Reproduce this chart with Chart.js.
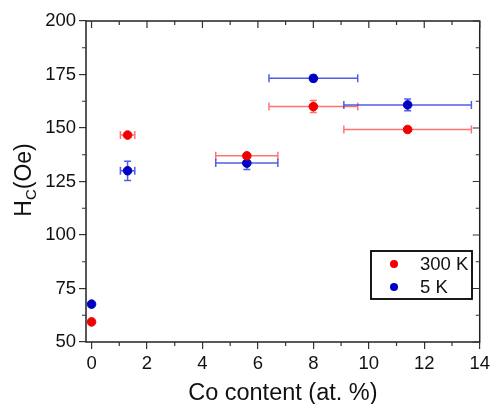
<!DOCTYPE html>
<html lang="en">
<head>
  <meta charset="UTF-8" />
  <title>Hc vs Co content</title>
  <script src="https://cdn.jsdelivr.net/npm/chart.js"></script>
  <style>
    html, body { margin: 0; padding: 0; background: #fff; }
    #wrap { width: 494px; height: 404px; }
  </style>
</head>
<body>
  <div id="wrap"><canvas id="grafico" width="494" height="404"></canvas></div>

  <script>
    // data
    const seriesNames = ['300 K', '5 K'];
    const co300 = [0, 1.3, 5.6, 8, 11.4];
    const hc300 = [59.4, 146.7, 137, 160, 149.3];
    const xErr300 = [0, 0.26, 1.12, 1.6, 2.3];
    const yErr300 = [0, 1, 1, 2.8, 1.3];
    const co5 = [0, 1.3, 5.6, 8, 11.4];
    const hc5 = [67.7, 130, 133.6, 173.2, 160.8];
    const xErr5 = [0, 0.26, 1.12, 1.6, 2.3];
    const yErr5 = [0, 4.5, 3, 1.5, 2.7];
    const xTicks = [0, 2, 4, 6, 8, 10, 12, 14];
    const yTicks = [50, 75, 100, 125, 150, 175, 200];

    const fontFam = '"Liberation Sans", Arial, sans-serif';

    function pts(xs, ys, xe, ye) {
      return xs.map((x, i) => ({ x: x, y: ys[i], xe: xe[i], ye: ye[i] }));
    }

    // error bars, drawn under the markers
    const errorBars = {
      id: 'errorBars',
      beforeDatasetsDraw(chart) {
        const c = chart.ctx, xs = chart.scales.x, ys = chart.scales.y;
        chart.data.datasets.forEach(ds => {
          c.save();
          c.strokeStyle = ds.errColor;
          c.lineWidth = 1.5;
          ds.data.forEach(p => {
            const px = xs.getPixelForValue(p.x), py = ys.getPixelForValue(p.y);
            c.beginPath();
            if (p.xe) {
              const x0 = xs.getPixelForValue(p.x - p.xe), x1 = xs.getPixelForValue(p.x + p.xe);
              c.moveTo(x0, py); c.lineTo(x1, py);
              c.moveTo(x0, py - 4); c.lineTo(x0, py + 4);
              c.moveTo(x1, py - 4); c.lineTo(x1, py + 4);
            }
            if (p.ye) {
              const y0 = ys.getPixelForValue(p.y - p.ye), y1 = ys.getPixelForValue(p.y + p.ye);
              c.moveTo(px, y0); c.lineTo(px, y1);
              c.moveTo(px - 3.5, y0); c.lineTo(px + 3.5, y0);
              c.moveTo(px - 3.5, y1); c.lineTo(px + 3.5, y1);
            }
            c.stroke();
          });
          c.restore();
        });
      }
    };

    // frame, minor ticks, mirrored ticks, y title and legend box
    const decor = {
      id: 'decor',
      afterDraw(chart) {
        const c = chart.ctx, a = chart.chartArea, xs = chart.scales.x, ys = chart.scales.y;
        c.save();
        c.strokeStyle = '#222';
        c.lineWidth = 1.5;
        c.strokeRect(a.left, a.top, a.right - a.left, a.bottom - a.top);

        c.lineWidth = 1.2;
        c.strokeStyle = '#333';
        c.beginPath();
        // x: minor ticks outward at bottom, all ticks inward at top
        for (let v = 1; v < 14; v += 2) {
          const px = xs.getPixelForValue(v);
          c.moveTo(px, a.bottom); c.lineTo(px, a.bottom + 4);
          c.moveTo(px, a.top); c.lineTo(px, a.top + 4);
        }
        xTicks.forEach(v => {
          const px = xs.getPixelForValue(v);
          c.moveTo(px, a.top); c.lineTo(px, a.top + 7);
        });
        // y: minor ticks outward at left, all ticks inward at right
        for (let v = 62.5; v < 200; v += 25) {
          const py = ys.getPixelForValue(v);
          c.moveTo(a.left, py); c.lineTo(a.left - 4, py);
          c.moveTo(a.right, py); c.lineTo(a.right - 4, py);
        }
        yTicks.forEach(v => {
          const py = ys.getPixelForValue(v);
          c.moveTo(a.right, py); c.lineTo(a.right - 7, py);
        });
        c.stroke();

        // y title H_C(Oe)
        c.fillStyle = '#111';
        c.translate(25, 180);
        c.rotate(-Math.PI / 2);
        c.textBaseline = 'middle';
        c.font = '23px ' + fontFam;
        const wH = c.measureText('H').width;
        c.font = '15px ' + fontFam;
        const wC = c.measureText('C').width;
        c.font = '23px ' + fontFam;
        const wO = c.measureText('(Oe)').width;
        let x = -(wH + wC + wO) / 2;
        c.textAlign = 'left';
        c.fillText('H', x, 0); x += wH;
        c.font = '15px ' + fontFam;
        c.fillText('C', x, 7); x += wC;
        c.font = '23px ' + fontFam;
        c.fillText('(Oe)', x, 0);
        c.setTransform(1, 0, 0, 1, 0, 0);

        // legend
        c.lineWidth = 1.8;
        c.strokeStyle = '#000';
        c.strokeRect(371, 251, 101, 48);
        c.font = '18.5px ' + fontFam;
        c.textAlign = 'left';
        c.textBaseline = 'middle';
        chart.data.datasets.forEach((ds, i) => {
          const cy = 264 + i * 23;
          c.fillStyle = ds.backgroundColor;
          c.beginPath();
          c.arc(394, cy, 4, 0, Math.PI * 2);
          c.fill();
          c.fillStyle = '#111';
          c.fillText(ds.label, 420, cy + 1);
        });
        c.restore();
      }
    };

    const ctx = document.getElementById('grafico').getContext('2d');
    const grafico = new Chart(ctx, {
      type: 'scatter',
      data: {
        datasets: [
          {
            label: seriesNames[0],
            data: pts(co300, hc300, xErr300, yErr300),
            backgroundColor: '#f20000',
            borderColor: '#f20000',
            errColor: 'rgba(255, 40, 40, 0.65)',
            pointRadius: 4.3,
            pointHoverRadius: 4.3
          },
          {
            label: seriesNames[1],
            data: pts(co5, hc5, xErr5, yErr5),
            backgroundColor: '#0000c4',
            borderColor: '#0000c4',
            errColor: 'rgba(20, 40, 220, 0.75)',
            pointRadius: 4.3,
            pointHoverRadius: 4.3
          }
        ]
      },
      options: {
        responsive: false,
        animation: false,
        events: [],
        layout: { padding: { top: 21, right: 10, left: 0, bottom: 0 } },
        plugins: {
          legend: { display: false },
          tooltip: { enabled: false }
        },
        scales: {
          x: {
            type: 'linear',
            min: -0.2,
            max: 14,
            afterBuildTicks: s => { s.ticks = xTicks.map(v => ({ value: v })); },
            afterFit: s => { s.height = 62; },
            grid: { drawOnChartArea: false, drawTicks: true, tickLength: 7, color: '#333', lineWidth: 1.2 },
            border: { display: false },
            ticks: { color: '#111', font: { family: fontFam, size: 18.5 }, padding: 4, maxRotation: 0 },
            title: {
              display: true,
              text: 'Co content (at. %)',
              color: '#111',
              font: { family: fontFam, size: 23.5, lineHeight: 1 },
              padding: { top: 2, bottom: -1 }
            }
          },
          y: {
            type: 'linear',
            min: 50,
            max: 200,
            afterBuildTicks: s => { s.ticks = yTicks.map(v => ({ value: v })); },
            afterFit: s => { s.width = 86; },
            grid: { drawOnChartArea: false, drawTicks: true, tickLength: 7, color: '#333', lineWidth: 1.2 },
            border: { display: false },
            ticks: { color: '#111', font: { family: fontFam, size: 18.5 }, padding: 3 }
          }
        }
      },
      plugins: [errorBars, decor]
    });
  </script>
</body>
</html>
